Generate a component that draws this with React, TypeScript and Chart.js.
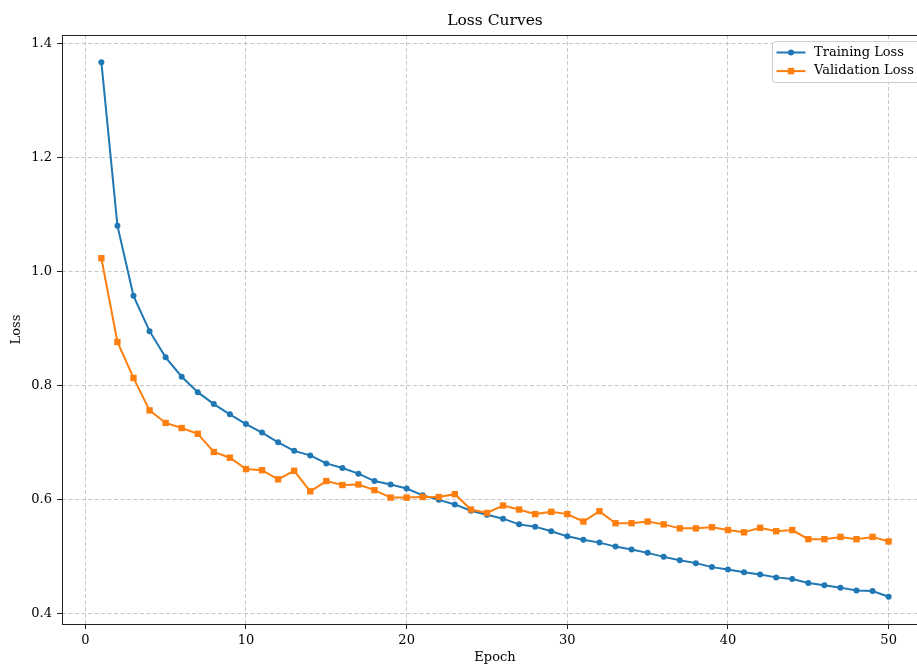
import React, { useEffect, useRef } from 'react';
import { Chart, registerables } from 'chart.js';

Chart.register(...registerables);

const epochs = [1, 2, 3, 4, 5, 6, 7, 8, 9, 10, 11, 12, 13, 14, 15, 16, 17, 18, 19, 20, 21, 22, 23, 24, 25, 26, 27, 28, 29, 30, 31, 32, 33, 34, 35, 36, 37, 38, 39, 40, 41, 42, 43, 44, 45, 46, 47, 48, 49, 50];

const trainingLoss = [1.367, 1.080, 0.957, 0.895, 0.849, 0.815, 0.788, 0.767, 0.749, 0.732,
  0.717, 0.700, 0.685, 0.677, 0.663, 0.655, 0.645, 0.632, 0.626, 0.619,
  0.607, 0.599, 0.591, 0.580, 0.573, 0.566, 0.556, 0.552, 0.544, 0.535,
  0.529, 0.524, 0.517, 0.512, 0.506, 0.499, 0.493, 0.488, 0.481, 0.477,
  0.472, 0.468, 0.463, 0.460, 0.453, 0.449, 0.445, 0.440, 0.439, 0.429];

const validationLoss = [1.023, 0.876, 0.813, 0.756, 0.734, 0.725, 0.715, 0.683, 0.673, 0.653,
  0.651, 0.635, 0.650, 0.614, 0.632, 0.625, 0.626, 0.616, 0.603, 0.603,
  0.604, 0.604, 0.609, 0.582, 0.576, 0.589, 0.582, 0.574, 0.578, 0.574,
  0.561, 0.579, 0.558, 0.558, 0.561, 0.556, 0.549, 0.549, 0.551, 0.546,
  0.542, 0.550, 0.544, 0.546, 0.530, 0.530, 0.534, 0.530, 0.534, 0.526];

const xTicks = [0, 10, 20, 30, 40, 50];
const yTicks = [0.4, 0.6, 0.8, 1.0, 1.2, 1.4];

const seriesLabels = ['Training Loss', 'Validation Loss'];
const seriesColors = ['#1f77b4', '#ff7f0e'];

const FONT = "'DejaVu Serif', serif";

const framePlugin = {
  id: 'frameAndLegend',
  afterDraw(chart: any) {
    const { ctx, chartArea } = chart;
    const { left, top, right, bottom } = chartArea;
    ctx.save();
    // spines
    ctx.strokeStyle = '#222';
    ctx.lineWidth = 1;
    ctx.setLineDash([]);
    ctx.strokeRect(Math.round(left) + 0.5, Math.round(top) + 0.5, Math.round(right - left), Math.round(bottom - top));

    // legend, matplotlib style in the upper right corner
    const bw = 149;
    const bh = 41;
    const bx = right - 7 - bw + 0.5;
    const by = top + 6.5;
    const r = 3;
    ctx.beginPath();
    ctx.moveTo(bx + r, by);
    ctx.lineTo(bx + bw - r, by);
    ctx.arcTo(bx + bw, by, bx + bw, by + r, r);
    ctx.lineTo(bx + bw, by + bh - r);
    ctx.arcTo(bx + bw, by + bh, bx + bw - r, by + bh, r);
    ctx.lineTo(bx + r, by + bh);
    ctx.arcTo(bx, by + bh, bx, by + bh - r, r);
    ctx.lineTo(bx, by + r);
    ctx.arcTo(bx, by, bx + r, by, r);
    ctx.closePath();
    ctx.fillStyle = 'rgba(255,255,255,0.8)';
    ctx.fill();
    ctx.strokeStyle = '#cccccc';
    ctx.stroke();

    chart.data.datasets.forEach((ds: any, i: number) => {
      const cy = by + 11 + i * 18.6;
      const x0 = bx + 4;
      const x1 = bx + 33;
      ctx.strokeStyle = ds.borderColor;
      ctx.lineWidth = 2;
      ctx.beginPath();
      ctx.moveTo(x0, cy);
      ctx.lineTo(x1, cy);
      ctx.stroke();
      ctx.fillStyle = ds.borderColor;
      const mx = (x0 + x1) / 2;
      if (ds.pointStyle === 'rect') {
        ctx.fillRect(mx - 3.2, cy - 3.2, 6.4, 6.4);
      } else {
        ctx.beginPath();
        ctx.arc(mx, cy, 3, 0, Math.PI * 2);
        ctx.fill();
      }
      ctx.fillStyle = '#000';
      ctx.font = `13px ${FONT}`;
      ctx.textAlign = 'left';
      ctx.textBaseline = 'middle';
      ctx.fillText(ds.label, bx + 41.5, cy);
    });
    ctx.restore();
  },
};

export default function App() {
  const canvasRef = useRef<HTMLCanvasElement | null>(null);

  useEffect(() => {
    const canvas = canvasRef.current;
    if (!canvas) return;
    const chart = new Chart(canvas, {
      type: 'line',
      data: {
        datasets: [
          {
            label: seriesLabels[0],
            data: epochs.map((e, i) => ({ x: e, y: trainingLoss[i] })),
            borderColor: seriesColors[0],
            backgroundColor: seriesColors[0],
            borderWidth: 2,
            pointStyle: 'circle',
            pointRadius: 3,
            pointBorderWidth: 0,
            tension: 0,
            order: 1,
          },
          {
            label: seriesLabels[1],
            data: epochs.map((e, i) => ({ x: e, y: validationLoss[i] })),
            borderColor: seriesColors[1],
            backgroundColor: seriesColors[1],
            borderWidth: 2,
            pointStyle: 'rect',
            pointRadius: 4.5,
            pointBorderWidth: 0,
            tension: 0,
            order: 0,
          },
        ],
      },
      options: {
        responsive: false,
        animation: false,
        devicePixelRatio: 1,
        layout: { padding: { left: 0, right: 62, top: 0, bottom: 0 } },
        plugins: {
          legend: { display: false },
          tooltip: { enabled: false },
          title: {
            display: true,
            fullSize: false,
            text: 'Loss Curves',
            color: '#000',
            font: { family: FONT, size: 15.5, weight: 'normal', lineHeight: 1.2 },
            padding: { top: 12, bottom: 4.4 },
          },
        },
        scales: {
          x: {
            type: 'linear',
            min: -1.45,
            max: 52.45,
            afterBuildTicks: (scale: any) => {
              scale.ticks = xTicks.map((v) => ({ value: v }));
            },
            afterFit: (scale: any) => {
              scale.height = 43;
            },
            ticks: {
              color: '#000',
              font: { family: FONT, size: 13 },
              padding: 3.7,
              maxRotation: 0,
              autoSkip: false,
              callback: (v: any) => String(v),
            },
            grid: {
              color: 'rgba(176,176,176,0.7)',
              lineWidth: 1,
              tickLength: 5,
              tickColor: '#222',
              tickWidth: 1,
              tickBorderDash: [],
            },
            border: { display: false, dash: [4, 2.5] },
            title: {
              display: true,
              text: 'Epoch',
              color: '#000',
              font: { family: FONT, size: 13, lineHeight: 1.2 },
              padding: { top: 0, bottom: 1.7 },
            },
          },
          y: {
            type: 'linear',
            min: 0.3812,
            max: 1.4146,
            afterBuildTicks: (scale: any) => {
              scale.ticks = yTicks.map((v) => ({ value: v }));
            },
            afterFit: (scale: any) => {
              scale.width = 62;
            },
            ticks: {
              color: '#000',
              font: { family: FONT, size: 13 },
              padding: 5,
              autoSkip: false,
              callback: (v: any) => Number(v).toFixed(1),
            },
            grid: {
              color: 'rgba(176,176,176,0.7)',
              lineWidth: 1,
              tickLength: 5,
              tickColor: '#222',
              tickWidth: 1,
              tickBorderDash: [],
            },
            border: { display: false, dash: [4, 2.5] },
            title: {
              display: true,
              text: 'Loss',
              color: '#000',
              font: { family: FONT, size: 13, lineHeight: 1.2 },
              padding: { top: 9.2, bottom: 0 },
            },
          },
        },
      },
      plugins: [framePlugin],
    } as any);
    return () => {
      chart.destroy();
    };
  }, []);

  // the canvas is wider than the window: the plot area runs past the right edge, as in the reference
  return (
    <div style={{ position: 'fixed', left: 0, top: 0, width: 917, height: 667, overflow: 'hidden', background: '#fff' }}>
      <canvas ref={canvasRef} width={990} height={667} style={{ display: 'block', width: 990, height: 667 }} />
    </div>
  );
}
